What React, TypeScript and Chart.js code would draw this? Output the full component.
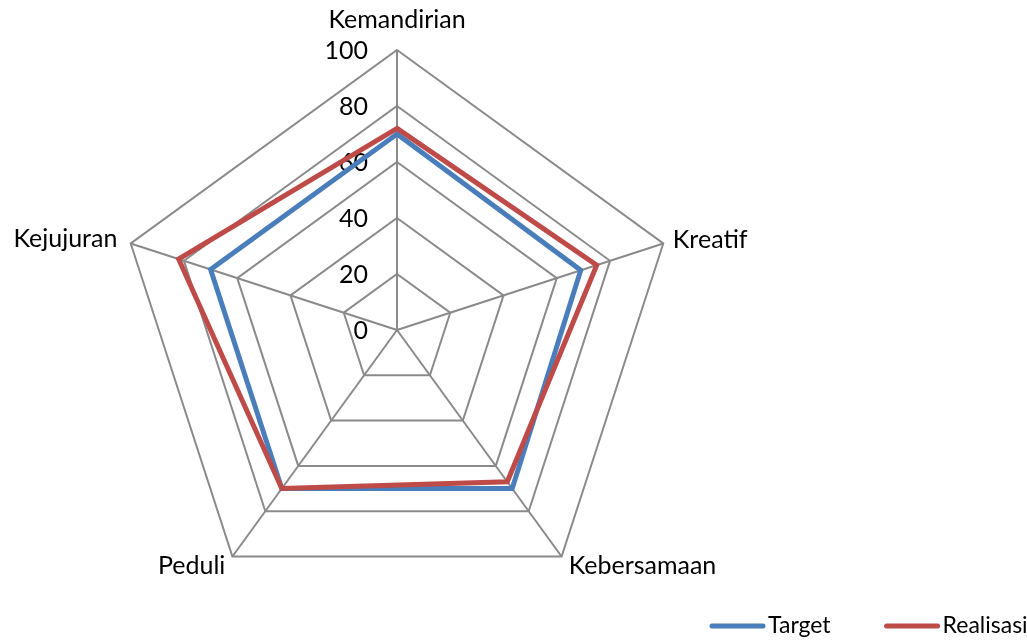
import React, { useEffect, useRef } from "react";
import { Chart, registerables } from "chart.js";

Chart.register(...registerables);

const categories = ["Kemandirian", "Kreatif", "Kebersamaan", "Peduli", "Kejujuran"];
const targetValues = [70, 69, 70, 70, 70];
const realisasiValues = [72, 75, 67, 70, 82];
const seriesNames = ["Target", "Realisasi"];
const seriesColors = ["#4A7EBB", "#BE4B48"];
const tickMin = 0;
const tickMax = 100;
const tickStep = 20;

const FONT_FAMILY = "Lato";
const FONT_SIZE = 25;
const LEGEND_FONT_SIZE = 23;

// label placement: [extra radius, textAlign]
const labelPlacement: Array<[number, CanvasTextAlign]> = [
  [30, "center"],
  [10, "left"],
  [12, "left"],
  [12, "right"],
  [14, "right"],
];

const textPlugin = {
  id: "radarTexts",
  beforeDatasetsDraw(chart: any) {
    const scale = chart.scales.r;
    if (!scale) return;
    const ctx: CanvasRenderingContext2D = chart.ctx;
    ctx.save();
    ctx.font = `${FONT_SIZE}px ${FONT_FAMILY}`;
    ctx.fillStyle = "#000000";
    ctx.textBaseline = "middle";
    ctx.textAlign = "right";
    scale.ticks.forEach((t: any) => {
      const d = scale.getDistanceFromCenterForValue(t.value);
      ctx.fillText(String(t.value), scale.xCenter - 29, scale.yCenter - d + 1);
    });
    categories.forEach((lab, i) => {
      const [extra, align] = labelPlacement[i];
      const p = scale.getPointPosition(i, scale.drawingArea + extra);
      ctx.textAlign = align;
      ctx.fillText(lab, p.x, p.y);
    });
    ctx.restore();
  },
};

const legendPlugin = {
  id: "customLegend",
  afterDraw(chart: any) {
    const ctx: CanvasRenderingContext2D = chart.ctx;
    ctx.save();
    ctx.font = `${LEGEND_FONT_SIZE}px ${FONT_FAMILY}`;
    ctx.textBaseline = "middle";
    ctx.textAlign = "left";
    let x = 712;
    const y = 626;
    chart.data.datasets.forEach((ds: any) => {
      ctx.strokeStyle = ds.borderColor;
      ctx.lineWidth = 5;
      ctx.lineCap = "round";
      ctx.beginPath();
      ctx.moveTo(x, y);
      ctx.lineTo(x + 51, y);
      ctx.stroke();
      ctx.fillStyle = "#000000";
      const tx = x + 56;
      ctx.fillText(ds.label, tx, y);
      x = tx + ctx.measureText(ds.label).width + 56;
    });
    ctx.restore();
  },
};

export default function App() {
  const canvasRef = useRef<HTMLCanvasElement | null>(null);

  useEffect(() => {
    document.body.style.margin = "0";
    const canvas = canvasRef.current;
    if (!canvas) return;
    const chart = new Chart(canvas, {
      type: "radar",
      data: {
        labels: categories,
        datasets: [
          {
            label: seriesNames[0],
            data: targetValues,
            borderColor: seriesColors[0],
            backgroundColor: seriesColors[0],
            borderWidth: 5,
            fill: false,
            pointRadius: 0,
            pointHoverRadius: 0,
            borderJoinStyle: "miter",
            order: 2,
          },
          {
            label: seriesNames[1],
            data: realisasiValues,
            borderColor: seriesColors[1],
            backgroundColor: seriesColors[1],
            borderWidth: 5,
            fill: false,
            pointRadius: 0,
            pointHoverRadius: 0,
            borderJoinStyle: "miter",
            order: 1,
          },
        ],
      },
      options: {
        responsive: false,
        animation: false,
        devicePixelRatio: 1,
        layout: { padding: { left: 117, right: 350, top: 50, bottom: 31 } },
        plugins: {
          legend: { display: false },
          tooltip: { enabled: false },
        },
        scales: {
          r: {
            min: tickMin,
            max: tickMax,
            ticks: { stepSize: tickStep, display: false },
            pointLabels: { display: false },
            grid: { color: "#8a8a8a", lineWidth: 2 },
            angleLines: { color: "#8a8a8a", lineWidth: 2 },
          },
        },
      },
      plugins: [textPlugin, legendPlugin],
    } as any);
    return () => chart.destroy();
  }, []);

  return (
    <div style={{ width: 1027, height: 641, background: "#ffffff" }}>
      <canvas ref={canvasRef} width={1027} height={641} />
    </div>
  );
}
